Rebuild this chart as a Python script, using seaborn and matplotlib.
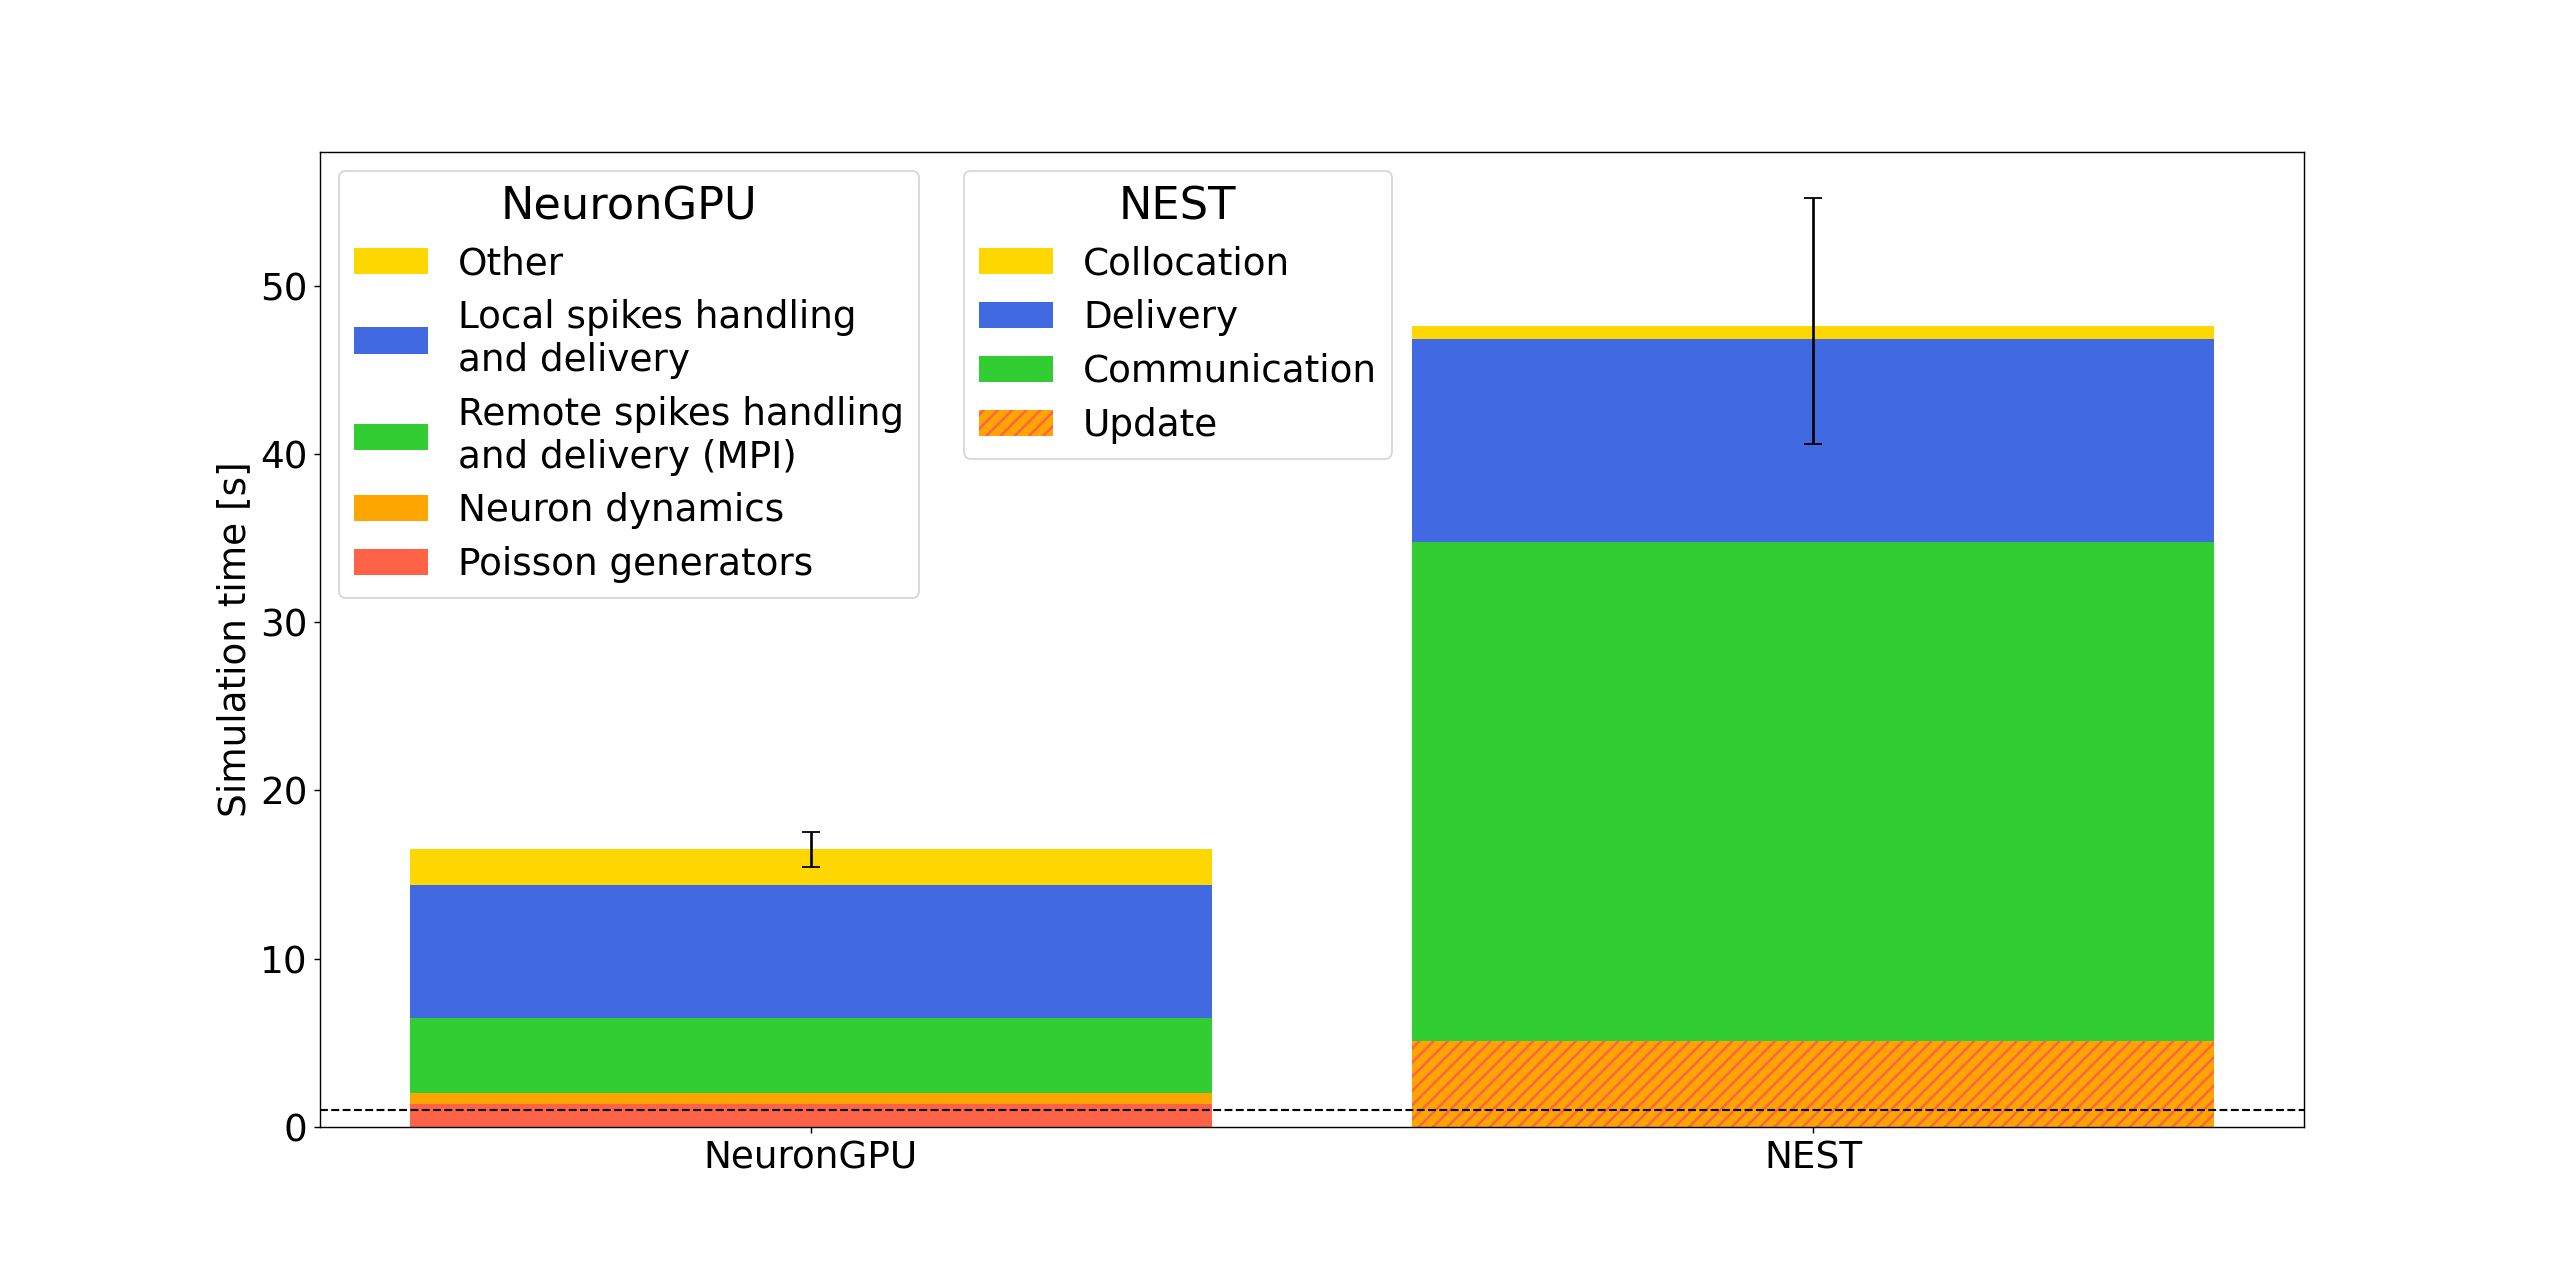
import matplotlib.pyplot as plt
from matplotlib.patches import Patch
import numpy as np
import seaborn as sns

systems = ["NeuronGPU", "NEST"]

# NeuronGPU contributions, bottom to top
gpu_labels = ["Poisson generators", "Neuron dynamics",
              "Remote spikes handling\nand delivery (MPI)",
              "Local spikes handling\nand delivery", "Other"]
gpu_times = [1.35, 0.65, 4.45, 7.95, 2.1]
gpu_colors = ["tomato", "orange", "limegreen", "royalblue", "gold"]

# NEST contributions, bottom to top
nest_labels = ["Update", "Communication", "Delivery", "Collocation"]
nest_times = [5.1, 29.65, 12.1, 0.78]
nest_colors = ["orange", "limegreen", "royalblue", "gold"]

# total simulation time, mean and std over runs
total_mean = [16.5, 47.9]
total_std = [1.05, 7.3]

ref_time = 1.0

FS = 21
plt.rcParams['hatch.linewidth'] = 1.4

fig, ax = plt.subplots(figsize=(20, 1266/128), dpi=128)


def draw_stack(system, times, colors):
    # draw from the top of the stack down so lower pieces sit on top
    tops = np.cumsum(times)
    for top, c in zip(tops[::-1], colors[::-1]):
        sns.barplot(x=[system], y=[top], order=systems, color=c,
                    saturation=1, linewidth=0, errorbar=None, ax=ax)


draw_stack("NeuronGPU", gpu_times, gpu_colors)
draw_stack("NEST", nest_times, nest_colors)

# the NEST update piece is hatched
upd = ax.patches[-1]
upd.set_hatch("///")
upd.set_edgecolor("tomato")
upd.set_linewidth(0)

ax.errorbar([0, 1], total_mean, yerr=total_std, fmt="none",
            ecolor="black", elinewidth=1.5, capsize=5)
ax.axhline(ref_time, color="black", linestyle="--", linewidth=1.2)

ax.set_xlim(-0.49, 1.49)
ax.set_ylim(0, None)
ax.set_ylabel("Simulation time [s]", fontsize=FS)
ax.tick_params(labelsize=FS)

gpu_handles = [Patch(facecolor=c, label=l) for l, c in zip(gpu_labels, gpu_colors)]
nest_handles = [Patch(facecolor=c, label=l) for l, c in zip(nest_labels, nest_colors)]
nest_handles[0] = Patch(facecolor="orange", edgecolor="tomato", hatch="///",
                        linewidth=0, label="Update")

leg1 = ax.legend(handles=gpu_handles[::-1], title="NeuronGPU", loc="upper left",
                 fontsize=FS, title_fontsize=FS * 1.2, labelspacing=0.45)
ax.add_artist(leg1)
ax.legend(handles=nest_handles[::-1], title="NEST", loc="upper left",
          bbox_to_anchor=(0.315, 1.0), fontsize=FS, title_fontsize=FS * 1.2,
          labelspacing=0.45)

plt.savefig("out.png", dpi=128)
